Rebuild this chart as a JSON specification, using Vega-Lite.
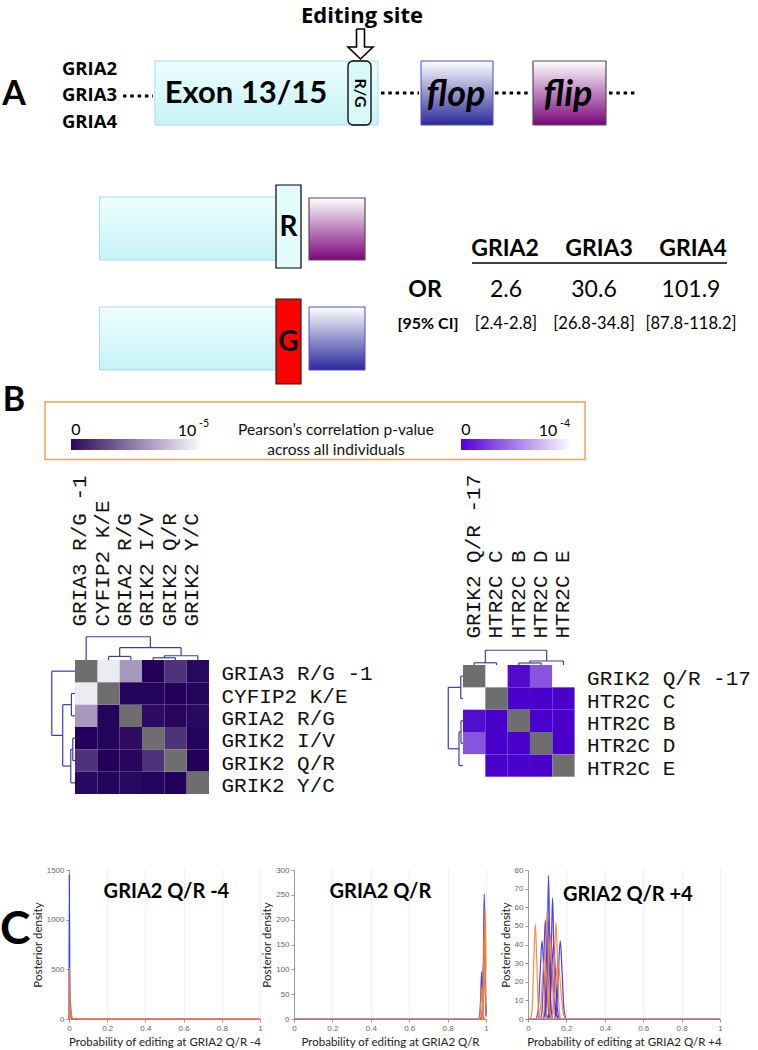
{
  "$schema": "https://vega.github.io/schema/vega-lite/v6.json",
  "padding": 0,
  "background": "white",
  "config": {"view": {"stroke": null}, "font": "Lato", "axis": {"labelOverlap": false}},
  "datasets": {
    "shapes": [
      {"kind": "exon", "x": 155, "x2": 378, "y": 61, "y2": 125},
      {"kind": "exon", "x": 99.5, "x2": 277, "y": 197, "y2": 260},
      {"kind": "exon", "x": 99.5, "x2": 277, "y": 307, "y2": 370},
      {"kind": "flop", "x": 421, "x2": 493, "y": 61, "y2": 125},
      {"kind": "flop", "x": 309, "x2": 365, "y": 307, "y2": 370},
      {"kind": "flip", "x": 533, "x2": 606, "y": 61, "y2": 125},
      {"kind": "flip", "x": 309, "x2": 365, "y": 198, "y2": 260},
      {"kind": "site", "x": 348, "x2": 371, "y": 61, "y2": 125},
      {"kind": "R", "x": 276, "x2": 301, "y": 185, "y2": 268},
      {"kind": "G", "x": 276, "x2": 301, "y": 299, "y2": 384},
      {"kind": "frame", "x": 45, "x2": 585, "y": 402, "y2": 459.5},
      {"kind": "scale5", "x": 71, "x2": 203, "y": 439, "y2": 450},
      {"kind": "scale4", "x": 461, "x2": 572, "y": 439, "y2": 450}
    ],
    "links": [
      {"kind": "dots", "x": 123, "x2": 153, "y": 96},
      {"kind": "dots", "x": 381, "x2": 419, "y": 93},
      {"kind": "dots", "x": 495, "x2": 531, "y": 93},
      {"kind": "dots", "x": 609, "x2": 635, "y": 93},
      {"kind": "underline", "x": 472, "x2": 727, "y": 263}
    ],
    "arrow": [
      {"i": 1, "x": 356.5, "y": 29}, {"i": 2, "x": 364.5, "y": 29}, {"i": 3, "x": 364.5, "y": 47},
      {"i": 4, "x": 373, "y": 47}, {"i": 5, "x": 360.5, "y": 59}, {"i": 6, "x": 348, "y": 47},
      {"i": 7, "x": 356.5, "y": 47}, {"i": 8, "x": 356.5, "y": 29}
    ],
    "texts": [
      {"role": "panel", "label": "A", "x": 14, "y": 95},
      {"role": "panel", "label": "B", "x": 14, "y": 401},
      {"role": "title", "label": "Editing site", "x": 362, "y": 16},
      {"role": "gene", "label": "GRIA2", "x": 89.5, "y": 69},
      {"role": "gene", "label": "GRIA3", "x": 89.5, "y": 95},
      {"role": "gene", "label": "GRIA4", "x": 89.5, "y": 122},
      {"role": "exon", "label": "Exon 13/15", "x": 246, "y": 94},
      {"role": "site", "label": "R/G", "x": 359.5, "y": 93},
      {"role": "isoform", "label": "flop", "x": 456, "y": 95},
      {"role": "isoform", "label": "flip", "x": 568, "y": 95},
      {"role": "allele", "label": "R", "x": 288.5, "y": 228},
      {"role": "allele", "label": "G", "x": 288.5, "y": 343},
      {"role": "header", "label": "GRIA2", "x": 505, "y": 249},
      {"role": "header", "label": "GRIA3", "x": 599, "y": 249},
      {"role": "header", "label": "GRIA4", "x": 693, "y": 249},
      {"role": "header", "label": "OR", "x": 425, "y": 290},
      {"role": "value", "label": "2.6", "x": 506, "y": 290},
      {"role": "value", "label": "30.6", "x": 594, "y": 290},
      {"role": "value", "label": "101.9", "x": 691, "y": 290},
      {"role": "cilabel", "label": "[95% CI]", "x": 428, "y": 324},
      {"role": "ci", "label": "[2.4-2.8]", "x": 506, "y": 324},
      {"role": "ci", "label": "[26.8-34.8]", "x": 594, "y": 324},
      {"role": "ci", "label": "[87.8-118.2]", "x": 691, "y": 324},
      {"role": "legend", "label": "Pearson’s correlation p-value", "x": 336, "y": 430},
      {"role": "legend", "label": "across all individuals", "x": 336, "y": 450},
      {"role": "legnum", "label": "0", "x": 76, "y": 430},
      {"role": "legnum", "label": "10", "x": 187, "y": 431},
      {"role": "legnum", "label": "0", "x": 466, "y": 430},
      {"role": "legnum", "label": "10", "x": 548, "y": 431},
      {"role": "sup", "label": "-5", "x": 204, "y": 424},
      {"role": "sup", "label": "-4", "x": 565, "y": 424}
    ],
    "heat1": [
      {"row": "GRIA3 R/G -1", "col": "GRIA3 R/G -1", "p": null},
      {"row": "GRIA3 R/G -1", "col": "CYFIP2 K/E", "p": 9.2e-6},
      {"row": "GRIA3 R/G -1", "col": "GRIA2 R/G", "p": 6.0e-6},
      {"row": "GRIA3 R/G -1", "col": "GRIK2 I/V", "p": 5e-8},
      {"row": "GRIA3 R/G -1", "col": "GRIK2 Q/R", "p": 2.0e-6},
      {"row": "GRIA3 R/G -1", "col": "GRIK2 Y/C", "p": 3e-7},
      {"row": "CYFIP2 K/E", "col": "GRIA3 R/G -1", "p": 9.2e-6},
      {"row": "CYFIP2 K/E", "col": "CYFIP2 K/E", "p": null},
      {"row": "CYFIP2 K/E", "col": "GRIA2 R/G", "p": 1e-7},
      {"row": "CYFIP2 K/E", "col": "GRIK2 I/V", "p": 1e-7},
      {"row": "CYFIP2 K/E", "col": "GRIK2 Q/R", "p": 3e-8},
      {"row": "CYFIP2 K/E", "col": "GRIK2 Y/C", "p": 1.5e-7},
      {"row": "GRIA2 R/G", "col": "GRIA3 R/G -1", "p": 6.0e-6},
      {"row": "GRIA2 R/G", "col": "CYFIP2 K/E", "p": 1e-7},
      {"row": "GRIA2 R/G", "col": "GRIA2 R/G", "p": null},
      {"row": "GRIA2 R/G", "col": "GRIK2 I/V", "p": 4.5e-7},
      {"row": "GRIA2 R/G", "col": "GRIK2 Q/R", "p": 2.5e-7},
      {"row": "GRIA2 R/G", "col": "GRIK2 Y/C", "p": 3e-7},
      {"row": "GRIK2 I/V", "col": "GRIA3 R/G -1", "p": 5e-8},
      {"row": "GRIK2 I/V", "col": "CYFIP2 K/E", "p": 1e-7},
      {"row": "GRIK2 I/V", "col": "GRIA2 R/G", "p": 4.5e-7},
      {"row": "GRIK2 I/V", "col": "GRIK2 I/V", "p": null},
      {"row": "GRIK2 I/V", "col": "GRIK2 Q/R", "p": 2.0e-6},
      {"row": "GRIK2 I/V", "col": "GRIK2 Y/C", "p": 1e-7},
      {"row": "GRIK2 Q/R", "col": "GRIA3 R/G -1", "p": 2.0e-6},
      {"row": "GRIK2 Q/R", "col": "CYFIP2 K/E", "p": 3e-8},
      {"row": "GRIK2 Q/R", "col": "GRIA2 R/G", "p": 2.5e-7},
      {"row": "GRIK2 Q/R", "col": "GRIK2 I/V", "p": 2.0e-6},
      {"row": "GRIK2 Q/R", "col": "GRIK2 Q/R", "p": null},
      {"row": "GRIK2 Q/R", "col": "GRIK2 Y/C", "p": 3e-8},
      {"row": "GRIK2 Y/C", "col": "GRIA3 R/G -1", "p": 3e-7},
      {"row": "GRIK2 Y/C", "col": "CYFIP2 K/E", "p": 1.5e-7},
      {"row": "GRIK2 Y/C", "col": "GRIA2 R/G", "p": 3e-7},
      {"row": "GRIK2 Y/C", "col": "GRIK2 I/V", "p": 1e-7},
      {"row": "GRIK2 Y/C", "col": "GRIK2 Q/R", "p": 3e-8},
      {"row": "GRIK2 Y/C", "col": "GRIK2 Y/C", "p": null}
    ],
    "heat2": [
      {"row": "GRIK2 Q/R -17", "col": "GRIK2 Q/R -17", "p": null},
      {"row": "GRIK2 Q/R -17", "col": "HTR2C C", "p": 3e-4},
      {"row": "GRIK2 Q/R -17", "col": "HTR2C B", "p": 4e-6},
      {"row": "GRIK2 Q/R -17", "col": "HTR2C D", "p": 3.3e-5},
      {"row": "GRIK2 Q/R -17", "col": "HTR2C E", "p": 5e-4},
      {"row": "HTR2C C", "col": "GRIK2 Q/R -17", "p": 3e-4},
      {"row": "HTR2C C", "col": "HTR2C C", "p": null},
      {"row": "HTR2C C", "col": "HTR2C B", "p": 2e-7},
      {"row": "HTR2C C", "col": "HTR2C D", "p": 1e-7},
      {"row": "HTR2C C", "col": "HTR2C E", "p": 3e-7},
      {"row": "HTR2C B", "col": "GRIK2 Q/R -17", "p": 5e-6},
      {"row": "HTR2C B", "col": "HTR2C C", "p": 2e-7},
      {"row": "HTR2C B", "col": "HTR2C B", "p": null},
      {"row": "HTR2C B", "col": "HTR2C D", "p": 1e-7},
      {"row": "HTR2C B", "col": "HTR2C E", "p": 2e-7},
      {"row": "HTR2C D", "col": "GRIK2 Q/R -17", "p": 3.3e-5},
      {"row": "HTR2C D", "col": "HTR2C C", "p": 1e-7},
      {"row": "HTR2C D", "col": "HTR2C B", "p": 1e-7},
      {"row": "HTR2C D", "col": "HTR2C D", "p": null},
      {"row": "HTR2C D", "col": "HTR2C E", "p": 1e-7},
      {"row": "HTR2C E", "col": "GRIK2 Q/R -17", "p": 5e-4},
      {"row": "HTR2C E", "col": "HTR2C C", "p": 3e-7},
      {"row": "HTR2C E", "col": "HTR2C B", "p": 2e-7},
      {"row": "HTR2C E", "col": "HTR2C D", "p": 1e-7},
      {"row": "HTR2C E", "col": "HTR2C E", "p": null}
    ],
    "tree1": [
      {"a0": 3.5, "h0": -0.1, "a1": 4.5, "h1": -0.1},
      {"a0": 3.5, "h0": -0.1, "a1": 3.5, "h1": 0},
      {"a0": 4.5, "h0": -0.1, "a1": 4.5, "h1": 0},
      {"a0": 4.0, "h0": -0.19, "a1": 5.5, "h1": -0.19},
      {"a0": 4.0, "h0": -0.19, "a1": 4.0, "h1": -0.1},
      {"a0": 5.5, "h0": -0.19, "a1": 5.5, "h1": 0},
      {"a0": 1.5, "h0": -0.16, "a1": 2.5, "h1": -0.16},
      {"a0": 1.5, "h0": -0.16, "a1": 1.5, "h1": 0},
      {"a0": 2.5, "h0": -0.16, "a1": 2.5, "h1": 0},
      {"a0": 2.0, "h0": -0.55, "a1": 4.75, "h1": -0.55},
      {"a0": 2.0, "h0": -0.55, "a1": 2.0, "h1": -0.16},
      {"a0": 4.75, "h0": -0.55, "a1": 4.75, "h1": -0.19},
      {"a0": 0.5, "h0": -1.04, "a1": 3.375, "h1": -1.04},
      {"a0": 0.5, "h0": -1.04, "a1": 0.5, "h1": 0},
      {"a0": 3.375, "h0": -1.04, "a1": 3.375, "h1": -0.55}
    ],
    "tree2": [
      {"a0": 0.5, "h0": -0.1, "a1": 1.5, "h1": -0.1},
      {"a0": 0.5, "h0": -0.1, "a1": 0.5, "h1": 0},
      {"a0": 1.5, "h0": -0.1, "a1": 1.5, "h1": 0},
      {"a0": 2.5, "h0": -0.09, "a1": 3.5, "h1": -0.09},
      {"a0": 2.5, "h0": -0.09, "a1": 2.5, "h1": 0},
      {"a0": 3.5, "h0": -0.09, "a1": 3.5, "h1": 0},
      {"a0": 3.0, "h0": -0.18, "a1": 4.5, "h1": -0.18},
      {"a0": 3.0, "h0": -0.18, "a1": 3.0, "h1": -0.09},
      {"a0": 4.5, "h0": -0.18, "a1": 4.5, "h1": 0},
      {"a0": 1.0, "h0": -0.66, "a1": 3.75, "h1": -0.66},
      {"a0": 1.0, "h0": -0.66, "a1": 1.0, "h1": -0.1},
      {"a0": 3.75, "h0": -0.66, "a1": 3.75, "h1": -0.18}
    ],
    "dens1": [
      {"curve": "B1", "group": "Cohort 1", "x": [0, 0.0015, 0.004, 0.008, 0.012, 0.02, 1], "y": [0, 1450, 420, 60, 5, 0, 0]},
      {"curve": "B2", "group": "Cohort 1", "x": [0, 0.004, 0.007, 0.01, 0.014, 0.02, 0.04], "y": [0, 40, 165, 90, 20, 0, 0]},
      {"curve": "O1", "group": "Cohort 2", "x": [0, 0.002, 0.003, 0.005, 0.009, 0.015, 1], "y": [0, 300, 520, 250, 40, 0, 0]},
      {"curve": "O2", "group": "Cohort 2", "x": [0, 0.005, 0.008, 0.012, 0.02, 0.03, 1], "y": [0, 60, 110, 40, 3, 0, 0]}
    ],
    "dens2": [
      {"curve": "B1", "group": "Cohort 1", "x": [0, 0.955, 0.965, 0.972, 0.977, 0.981, 0.986, 0.99], "y": [0, 0, 3, 40, 95, 40, 3, 0]},
      {"curve": "B2", "group": "Cohort 1", "x": [0.975, 0.981, 0.985, 0.988, 0.991, 0.994, 0.997, 1], "y": [0, 10, 70, 180, 252, 180, 60, 5]},
      {"curve": "B3", "group": "Cohort 1", "x": [0.968, 0.976, 0.982, 0.987, 0.992, 0.996, 1], "y": [0, 5, 30, 110, 130, 60, 10]},
      {"curve": "O0", "group": "Cohort 2", "x": [0, 1], "y": [0, 0]},
      {"curve": "O1", "group": "Cohort 2", "x": [0.96, 0.968, 0.974, 0.979, 0.984, 0.989, 0.995], "y": [0, 5, 40, 65, 25, 2, 0]},
      {"curve": "O2", "group": "Cohort 2", "x": [0.978, 0.984, 0.988, 0.992, 0.995, 0.998, 1], "y": [0, 20, 90, 190, 225, 170, 100]},
      {"curve": "O3", "group": "Cohort 2", "x": [0.974, 0.98, 0.985, 0.989, 0.993, 0.997, 1], "y": [0, 10, 40, 150, 175, 100, 40]},
      {"curve": "O4", "group": "Cohort 2", "x": [0.976, 0.982, 0.986, 0.99, 0.994, 0.998, 1], "y": [0, 15, 70, 120, 90, 30, 10]}
    ],
    "dens3": [
      {"curve": "B0", "group": "Cohort 1", "x": [0, 1], "y": [0, 0]},
      {"curve": "B1", "group": "Cohort 1", "x": [0.0915, 0.0966, 0.1018, 0.107, 0.1122, 0.1174, 0.1225], "y": [0.9, 10.4, 46.7, 77, 46.7, 10.4, 0.9]},
      {"curve": "B2", "group": "Cohort 1", "x": [0.1096, 0.1157, 0.1219, 0.128, 0.1341, 0.1403, 0.1464], "y": [0.7, 8.8, 39.5, 65, 39.5, 8.8, 0.7]},
      {"curve": "B3", "group": "Cohort 1", "x": [0.0674, 0.0749, 0.0825, 0.09, 0.0975, 0.1051, 0.1126], "y": [0.6, 7.2, 32.2, 53, 32.2, 7.2, 0.6]},
      {"curve": "B4", "group": "Cohort 1", "x": [0.0818, 0.0892, 0.0966, 0.104, 0.1114, 0.1188, 0.1262], "y": [0.6, 7.3, 32.8, 54, 32.8, 7.3, 0.6]},
      {"curve": "B5", "group": "Cohort 1", "x": [0.1395, 0.149, 0.1585, 0.168, 0.1775, 0.187, 0.1965], "y": [0.5, 5.7, 25.5, 42, 25.5, 5.7, 0.5]},
      {"curve": "B6", "group": "Cohort 1", "x": [0.0445, 0.054, 0.0635, 0.073, 0.0825, 0.092, 0.1015], "y": [0.5, 5.7, 25.5, 42, 25.5, 5.7, 0.5]},
      {"curve": "B7", "group": "Cohort 1", "x": [0.1031, 0.1131, 0.123, 0.133, 0.143, 0.1529, 0.1629], "y": [0.4, 5.4, 24.3, 40, 24.3, 5.4, 0.4]},
      {"curve": "B8", "group": "Cohort 1", "x": [0.0781, 0.0914, 0.1047, 0.118, 0.1313, 0.1446, 0.1579], "y": [0.3, 4.1, 18.2, 30, 18.2, 4.1, 0.3]},
      {"curve": "O0", "group": "Cohort 2", "x": [0, 1], "y": [0, 0]},
      {"curve": "O1", "group": "Cohort 2", "x": [0.0145, 0.0224, 0.0302, 0.038, 0.0458, 0.0536, 0.0615], "y": [0.6, 6.9, 31, 51, 31, 6.9, 0.6]},
      {"curve": "O2", "group": "Cohort 2", "x": [0.0784, 0.0852, 0.0921, 0.099, 0.1059, 0.1128, 0.1196], "y": [0.6, 7.8, 35.2, 58, 35.2, 7.8, 0.6]},
      {"curve": "O3", "group": "Cohort 2", "x": [0.123, 0.1307, 0.1383, 0.146, 0.1537, 0.1613, 0.169], "y": [0.6, 7, 31.6, 52, 31.6, 7, 0.6]},
      {"curve": "O4", "group": "Cohort 2", "x": [0.1174, 0.1303, 0.1431, 0.156, 0.1689, 0.1817, 0.1946], "y": [0.3, 4.2, 18.8, 31, 18.8, 4.2, 0.3]},
      {"curve": "O5", "group": "Cohort 2", "x": [0.0518, 0.0635, 0.0753, 0.087, 0.0987, 0.1105, 0.1222], "y": [0.4, 4.6, 20.6, 34, 20.6, 4.6, 0.4]},
      {"curve": "O6", "group": "Cohort 2", "x": [0.0894, 0.0983, 0.1071, 0.116, 0.1249, 0.1337, 0.1426], "y": [0.5, 6.1, 27.3, 45, 27.3, 6.1, 0.5]}
    ]
  },
  "spacing": 70,
  "vconcat": [
    {
      "spacing": 13,
      "vconcat": [
        {
          "width": 758,
          "height": 460,
          "encoding": {
            "x": {"field": "x", "type": "quantitative", "scale": {"domain": [0, 758], "nice": false, "zero": false}, "axis": null},
            "y": {"field": "y", "type": "quantitative", "scale": {"domain": [0, 460], "nice": false, "zero": false, "reverse": true}, "axis": null}
          },
          "layer": [
            {
              "data": {"name": "shapes"},
              "transform": [{"filter": "datum.kind === 'exon' || datum.kind === 'flop' || datum.kind === 'flip'"}],
              "mark": {"type": "rect", "fill": "#000000", "opacity": 0.16, "xOffset": 3, "yOffset": 3},
              "encoding": {"x2": {"field": "x2"}, "y2": {"field": "y2"}}
            },
            {
              "data": {"name": "shapes"},
              "transform": [{"filter": "datum.kind === 'exon'"}],
              "mark": {"type": "rect", "stroke": "#a6e0e6", "strokeWidth": 1,
                "fill": {"gradient": "linear", "x1": 0, "y1": 0, "x2": 0, "y2": 1, "stops": [{"offset": 0, "color": "#edfeff"}, {"offset": 1, "color": "#c6f2f5"}]}},
              "encoding": {"x2": {"field": "x2"}, "y2": {"field": "y2"}}
            },
            {
              "data": {"name": "shapes"},
              "transform": [{"filter": "datum.kind === 'flop'"}],
              "mark": {"type": "rect", "stroke": "#4d4dc0", "strokeWidth": 1,
                "fill": {"gradient": "linear", "x1": 0, "y1": 0, "x2": 0, "y2": 1, "stops": [{"offset": 0, "color": "#ffffff"}, {"offset": 1, "color": "#2a2a9a"}]}},
              "encoding": {"x2": {"field": "x2"}, "y2": {"field": "y2"}}
            },
            {
              "data": {"name": "shapes"},
              "transform": [{"filter": "datum.kind === 'flip'"}],
              "mark": {"type": "rect", "stroke": "#505050", "strokeWidth": 1.2,
                "fill": {"gradient": "linear", "x1": 0, "y1": 0, "x2": 0, "y2": 1, "stops": [{"offset": 0, "color": "#ffffff"}, {"offset": 1, "color": "#7a067a"}]}},
              "encoding": {"x2": {"field": "x2"}, "y2": {"field": "y2"}}
            },
            {
              "data": {"name": "shapes"},
              "transform": [{"filter": "datum.kind === 'site'"}],
              "mark": {"type": "rect", "fill": "#d9f8fa", "stroke": "#000000", "strokeWidth": 1.3, "cornerRadius": 5},
              "encoding": {"x2": {"field": "x2"}, "y2": {"field": "y2"}}
            },
            {
              "data": {"name": "shapes"},
              "transform": [{"filter": "datum.kind === 'R'"}],
              "mark": {"type": "rect", "fill": "#e4fbfc", "stroke": "#000000", "strokeWidth": 1.2},
              "encoding": {"x2": {"field": "x2"}, "y2": {"field": "y2"}}
            },
            {
              "data": {"name": "shapes"},
              "transform": [{"filter": "datum.kind === 'G'"}],
              "mark": {"type": "rect", "fill": "#ff0000", "stroke": "#222222", "strokeWidth": 1.2},
              "encoding": {"x2": {"field": "x2"}, "y2": {"field": "y2"}}
            },
            {
              "data": {"name": "shapes"},
              "transform": [{"filter": "datum.kind === 'frame'"}],
              "mark": {"type": "rect", "filled": false, "color": "#f5a05c", "strokeWidth": 1.5},
              "encoding": {"x2": {"field": "x2"}, "y2": {"field": "y2"}}
            },
            {
              "data": {"name": "shapes"},
              "transform": [{"filter": "datum.kind === 'scale5'"}],
              "mark": {"type": "rect",
                "fill": {"gradient": "linear", "x1": 0, "y1": 0, "x2": 1, "y2": 0, "stops": [{"offset": 0, "color": "#2a085c"}, {"offset": 1, "color": "#ffffff"}]}},
              "encoding": {"x2": {"field": "x2"}, "y2": {"field": "y2"}}
            },
            {
              "data": {"name": "shapes"},
              "transform": [{"filter": "datum.kind === 'scale4'"}],
              "mark": {"type": "rect",
                "fill": {"gradient": "linear", "x1": 0, "y1": 0, "x2": 1, "y2": 0, "stops": [{"offset": 0, "color": "#5000d4"}, {"offset": 1, "color": "#ffffff"}]}},
              "encoding": {"x2": {"field": "x2"}, "y2": {"field": "y2"}}
            },
            {
              "data": {"name": "links"},
              "transform": [{"filter": "datum.kind === 'dots'"}],
              "mark": {"type": "rule", "color": "#000000", "strokeWidth": 3, "strokeDash": [3.5, 3.8]},
              "encoding": {"x2": {"field": "x2"}}
            },
            {
              "data": {"name": "links"},
              "transform": [{"filter": "datum.kind === 'underline'"}],
              "mark": {"type": "rule", "color": "#000000", "strokeWidth": 1.6},
              "encoding": {"x2": {"field": "x2"}}
            },
            {
              "data": {"name": "arrow"},
              "mark": {"type": "line", "color": "#000000", "strokeWidth": 1.6, "strokeJoin": "miter"},
              "encoding": {"order": {"field": "i", "type": "quantitative"}}
            },
            {
              "data": {"name": "texts"},
              "transform": [{"filter": "datum.role === 'panel'"}],
              "mark": {"type": "text", "font": "Lato", "fontWeight": "bold", "fontSize": 34, "align": "center", "baseline": "middle", "color": "#000"},
              "encoding": {"text": {"field": "label"}}
            },
            {
              "data": {"name": "texts"},
              "transform": [{"filter": "datum.role === 'title'"}],
              "mark": {"type": "text", "font": "Open Sans", "fontWeight": "bold", "fontSize": 22, "align": "center", "baseline": "middle", "color": "#000"},
              "encoding": {"text": {"field": "label"}}
            },
            {
              "data": {"name": "texts"},
              "transform": [{"filter": "datum.role === 'gene'"}],
              "mark": {"type": "text", "font": "Open Sans", "fontWeight": "bold", "fontSize": 18.5, "align": "center", "baseline": "middle", "color": "#000"},
              "encoding": {"text": {"field": "label"}}
            },
            {
              "data": {"name": "texts"},
              "transform": [{"filter": "datum.role === 'exon'"}],
              "mark": {"type": "text", "font": "Lato", "fontWeight": "bold", "fontSize": 31, "align": "center", "baseline": "middle", "color": "#000"},
              "encoding": {"text": {"field": "label"}}
            },
            {
              "data": {"name": "texts"},
              "transform": [{"filter": "datum.role === 'site'"}],
              "mark": {"type": "text", "font": "Lato", "fontWeight": "bold", "fontSize": 16, "align": "center", "baseline": "middle", "angle": 90, "color": "#000"},
              "encoding": {"text": {"field": "label"}}
            },
            {
              "data": {"name": "texts"},
              "transform": [{"filter": "datum.role === 'isoform'"}],
              "mark": {"type": "text", "font": "Lato", "fontWeight": "bold", "fontStyle": "italic", "fontSize": 36, "align": "center", "baseline": "middle", "color": "#000"},
              "encoding": {"text": {"field": "label"}}
            },
            {
              "data": {"name": "texts"},
              "transform": [{"filter": "datum.role === 'allele'"}],
              "mark": {"type": "text", "font": "Lato", "fontWeight": "bold", "fontSize": 28, "align": "center", "baseline": "middle", "color": "#000"},
              "encoding": {"text": {"field": "label"}}
            },
            {
              "data": {"name": "texts"},
              "transform": [{"filter": "datum.role === 'header'"}],
              "mark": {"type": "text", "font": "Lato", "fontWeight": "bold", "fontSize": 23, "align": "center", "baseline": "middle", "color": "#000"},
              "encoding": {"text": {"field": "label"}}
            },
            {
              "data": {"name": "texts"},
              "transform": [{"filter": "datum.role === 'value'"}],
              "mark": {"type": "text", "font": "Lato", "fontSize": 23, "align": "center", "baseline": "middle", "color": "#000"},
              "encoding": {"text": {"field": "label"}}
            },
            {
              "data": {"name": "texts"},
              "transform": [{"filter": "datum.role === 'cilabel'"}],
              "mark": {"type": "text", "font": "Lato", "fontWeight": "bold", "fontSize": 16, "align": "center", "baseline": "middle", "color": "#000"},
              "encoding": {"text": {"field": "label"}}
            },
            {
              "data": {"name": "texts"},
              "transform": [{"filter": "datum.role === 'ci'"}],
              "mark": {"type": "text", "font": "Lato", "fontSize": 16.5, "align": "center", "baseline": "middle", "color": "#000"},
              "encoding": {"text": {"field": "label"}}
            },
            {
              "data": {"name": "texts"},
              "transform": [{"filter": "datum.role === 'legend'"}],
              "mark": {"type": "text", "font": "Lato", "fontSize": 15.5, "align": "center", "baseline": "middle", "color": "#111"},
              "encoding": {"text": {"field": "label"}}
            },
            {
              "data": {"name": "texts"},
              "transform": [{"filter": "datum.role === 'legnum'"}],
              "mark": {"type": "text", "font": "Lato", "fontSize": 16, "align": "center", "baseline": "middle", "color": "#000"},
              "encoding": {"text": {"field": "label"}}
            },
            {
              "data": {"name": "texts"},
              "transform": [{"filter": "datum.role === 'sup'"}],
              "mark": {"type": "text", "font": "Lato", "fontSize": 10.5, "align": "center", "baseline": "middle", "color": "#000"},
              "encoding": {"text": {"field": "label"}}
            }
          ]
        },
        {
          "spacing": 0,
          "bounds": "flush",
          "hconcat": [
            {"width": 74.3, "height": 10, "data": {"values": []}, "mark": "point"},
            {
              "width": 134,
              "height": 134,
              "layer": [
                {
                  "data": {"name": "heat1"},
                  "transform": [{"filter": "isValid(datum.p)"}],
                  "mark": {"type": "rect"},
                  "encoding": {
                    "x": {"field": "col", "type": "nominal",
                      "scale": {"domain": ["GRIA3 R/G -1", "CYFIP2 K/E", "GRIA2 R/G", "GRIK2 I/V", "GRIK2 Q/R", "GRIK2 Y/C"], "paddingInner": 0, "paddingOuter": 0},
                      "axis": {"orient": "top", "title": null, "domain": false, "ticks": false, "tickSize": 0, "grid": false, "labelAngle": 270, "labelAlign": "left", "labelBaseline": "alphabetic", "labelPadding": 34, "labelFont": "Liberation Mono", "labelFontSize": 21, "labelColor": "#111", "labelOverlap": false, "labelLimit": 400}},
                    "y": {"field": "row", "type": "nominal",
                      "scale": {"domain": ["GRIA3 R/G -1", "CYFIP2 K/E", "GRIA2 R/G", "GRIK2 I/V", "GRIK2 Q/R", "GRIK2 Y/C"], "paddingInner": 0, "paddingOuter": 0},
                      "axis": {"orient": "right", "title": null, "domain": false, "ticks": false, "tickSize": 0, "grid": false, "labelAlign": "left", "labelBaseline": "middle", "labelOffset": 3, "labelPadding": 12, "labelFont": "Liberation Mono", "labelFontSize": 21, "labelColor": "#111", "labelOverlap": false, "labelLimit": 400}},
                    "color": {"field": "p", "type": "quantitative", "scale": {"domain": [0, 0.00001], "range": ["#22005a", "#ffffff"], "interpolate": "rgb", "clamp": true}, "legend": null}
                  }
                },
                {
                  "data": {"name": "heat1"},
                  "transform": [{"filter": "!isValid(datum.p)"}],
                  "mark": {"type": "rect", "color": "#6e6e6e"},
                  "encoding": {
                    "x": {"field": "col", "type": "nominal", "scale": {"domain": ["GRIA3 R/G -1", "CYFIP2 K/E", "GRIA2 R/G", "GRIK2 I/V", "GRIK2 Q/R", "GRIK2 Y/C"], "paddingInner": 0, "paddingOuter": 0}, "axis": null},
                    "y": {"field": "row", "type": "nominal", "scale": {"domain": ["GRIA3 R/G -1", "CYFIP2 K/E", "GRIA2 R/G", "GRIK2 I/V", "GRIK2 Q/R", "GRIK2 Y/C"], "paddingInner": 0, "paddingOuter": 0}, "axis": null}
                  }
                },
                {
                  "data": {"name": "tree1"},
                  "mark": {"type": "rule", "color": "#3d3dab", "strokeWidth": 1.2},
                  "encoding": {
                    "x": {"field": "a0", "type": "quantitative", "scale": {"domain": [0, 6], "nice": false, "zero": false}, "axis": null},
                    "x2": {"field": "a1"},
                    "y": {"field": "h0", "type": "quantitative", "scale": {"domain": [0, 6], "nice": false, "zero": false, "reverse": true}, "axis": null},
                    "y2": {"field": "h1"}
                  }
                },
                {
                  "data": {"name": "tree1"},
                  "mark": {"type": "rule", "color": "#3d3dab", "strokeWidth": 1.2},
                  "encoding": {
                    "x": {"field": "h0", "type": "quantitative", "scale": {"domain": [0, 6], "nice": false, "zero": false}, "axis": null},
                    "x2": {"field": "h1"},
                    "y": {"field": "a0", "type": "quantitative", "scale": {"domain": [0, 6], "nice": false, "zero": false, "reverse": true}, "axis": null},
                    "y2": {"field": "a1"}
                  }
                }
              ],
              "resolve": {"scale": {"x": "independent", "y": "independent", "color": "independent"}}
            },
            {"width": 253.4, "height": 10, "data": {"values": []}, "mark": "point"},
            {
              "width": 111.6,
              "height": 116.7,
              "layer": [
                {
                  "data": {"name": "heat2"},
                  "transform": [{"filter": "isValid(datum.p)"}],
                  "mark": {"type": "rect"},
                  "encoding": {
                    "x": {"field": "col", "type": "nominal",
                      "scale": {"domain": ["GRIK2 Q/R -17", "HTR2C C", "HTR2C B", "HTR2C D", "HTR2C E"], "paddingInner": 0, "paddingOuter": 0},
                      "axis": {"orient": "top", "title": null, "domain": false, "ticks": false, "tickSize": 0, "grid": false, "labelAngle": 270, "labelAlign": "left", "labelBaseline": "middle", "labelPadding": 22, "labelFont": "Liberation Mono", "labelFontSize": 21, "labelColor": "#111", "labelOverlap": false, "labelLimit": 400}},
                    "y": {"field": "row", "type": "nominal",
                      "scale": {"domain": ["GRIK2 Q/R -17", "HTR2C C", "HTR2C B", "HTR2C D", "HTR2C E"], "paddingInner": 0, "paddingOuter": 0.112, "align": 1},
                      "axis": {"orient": "right", "title": null, "domain": false, "ticks": false, "tickSize": 0, "grid": false, "labelAlign": "left", "labelBaseline": "middle", "labelOffset": 3, "labelPadding": 12, "labelFont": "Liberation Mono", "labelFontSize": 21, "labelColor": "#111", "labelOverlap": false, "labelLimit": 400}},
                    "color": {"field": "p", "type": "quantitative", "scale": {"domain": [0, 0.0001], "range": ["#4a00cc", "#ffffff"], "interpolate": "rgb", "clamp": true}, "legend": null}
                  }
                },
                {
                  "data": {"name": "heat2"},
                  "transform": [{"filter": "!isValid(datum.p)"}],
                  "mark": {"type": "rect", "color": "#6e6e6e"},
                  "encoding": {
                    "x": {"field": "col", "type": "nominal", "scale": {"domain": ["GRIK2 Q/R -17", "HTR2C C", "HTR2C B", "HTR2C D", "HTR2C E"], "paddingInner": 0, "paddingOuter": 0}, "axis": null},
                    "y": {"field": "row", "type": "nominal", "scale": {"domain": ["GRIK2 Q/R -17", "HTR2C C", "HTR2C B", "HTR2C D", "HTR2C E"], "paddingInner": 0, "paddingOuter": 0.112, "align": 1}, "axis": null}
                  }
                },
                {
                  "data": {"name": "tree2"},
                  "mark": {"type": "rule", "color": "#3d3dab", "strokeWidth": 1.2},
                  "encoding": {
                    "x": {"field": "a0", "type": "quantitative", "scale": {"domain": [0, 5], "nice": false, "zero": false}, "axis": null},
                    "x2": {"field": "a1"},
                    "y": {"field": "h0", "type": "quantitative", "scale": {"domain": [-0.224, 5], "nice": false, "zero": false, "reverse": true}, "axis": null},
                    "y2": {"field": "h1"}
                  }
                },
                {
                  "data": {"name": "tree2"},
                  "mark": {"type": "rule", "color": "#3d3dab", "strokeWidth": 1.2},
                  "encoding": {
                    "x": {"field": "h0", "type": "quantitative", "scale": {"domain": [0, 5], "nice": false, "zero": false}, "axis": null},
                    "x2": {"field": "h1"},
                    "y": {"field": "a0", "type": "quantitative", "scale": {"domain": [-0.224, 5], "nice": false, "zero": false, "reverse": true}, "axis": null},
                    "y2": {"field": "a1"}
                  }
                }
              ],
              "resolve": {"scale": {"x": "independent", "y": "independent", "color": "independent"}}
            }
          ]
        }
      ]
    },
    {
      "spacing": 0,
      "bounds": "flush",
      "hconcat": [
        {
          "width": 69,
          "height": 149,
          "data": {"values": [{"label": "C"}]},
          "mark": {"type": "text", "font": "Lato", "fontWeight": "bold", "fontSize": 46, "align": "left", "baseline": "middle", "color": "#000"},
          "encoding": {
            "text": {"field": "label"},
            "x": {"datum": 0, "type": "quantitative", "scale": {"domain": [0, 1]}, "axis": null},
            "y": {"datum": 0.6, "type": "quantitative", "scale": {"domain": [0, 1]}, "axis": null}
          }
        },
        {
          "width": 191,
          "height": 149,
          "layer": [
            {
              "data": {"name": "dens1"},
              "transform": [{"flatten": ["x", "y"]}],
              "mark": {"type": "line", "strokeWidth": 1.2, "interpolate": "monotone", "opacity": 0.9},
              "encoding": {
                "x": {"field": "x", "type": "quantitative", "scale": {"domain": [0, 1], "nice": false, "zero": false},
                  "axis": {"title": "Probability of editing at GRIA2 Q/R -4", "values": [0, 0.2, 0.4, 0.6, 0.8, 1], "format": "~g", "labelOverlap": false, "labelFlush": false, "labelFont": "Liberation Sans", "labelFontSize": 8, "labelColor": "#666", "labelPadding": 2, "tickSize": 3, "tickColor": "#999", "domainColor": "#999", "grid": true, "gridColor": "#e4e4e4", "gridDash": [2, 2], "titleFont": "Lato", "titleFontSize": 11.5, "titleFontWeight": "normal", "titleColor": "#222", "titlePadding": 4}},
                "y": {"field": "y", "type": "quantitative", "scale": {"domain": [0, 1500], "nice": false},
                  "axis": {"title": "Posterior density", "values": [0, 500, 1000, 1500], "format": "d", "labelOverlap": false, "labelFlush": false, "labelFont": "Liberation Sans", "labelFontSize": 8, "labelColor": "#666", "labelPadding": 2, "tickSize": 3, "tickColor": "#999", "domainColor": "#999", "grid": false, "titleFont": "Lato", "titleFontSize": 11.5, "titleFontWeight": "normal", "titleColor": "#222", "titlePadding": 3}},
                "color": {"field": "group", "type": "nominal", "scale": {"domain": ["Cohort 1", "Cohort 2"], "range": ["#2b2bff", "#ff7f2a"]}, "legend": null},
                "detail": {"field": "curve", "type": "nominal"}
              }
            },
            {
              "data": {"values": [{"label": "GRIA2 Q/R -4"}]},
              "mark": {"type": "text", "font": "Lato", "fontWeight": "bold", "fontSize": 20, "align": "center", "baseline": "middle", "color": "#000"},
              "encoding": {"text": {"field": "label"},
                "x": {"datum": 0.51, "type": "quantitative",
                  "axis": {"title": "Probability of editing at GRIA2 Q/R -4", "values": [0, 0.2, 0.4, 0.6, 0.8, 1], "format": "~g", "labelOverlap": false, "labelFlush": false, "labelFont": "Liberation Sans", "labelFontSize": 8, "labelColor": "#666", "labelPadding": 2, "tickSize": 3, "tickColor": "#999", "domainColor": "#999", "grid": true, "gridColor": "#e4e4e4", "gridDash": [2, 2], "titleFont": "Lato", "titleFontSize": 11.5, "titleFontWeight": "normal", "titleColor": "#222", "titlePadding": 4}},
                "y": {"datum": 1280, "type": "quantitative",
                  "axis": {"title": "Posterior density", "values": [0, 500, 1000, 1500], "format": "d", "labelOverlap": false, "labelFlush": false, "labelFont": "Liberation Sans", "labelFontSize": 8, "labelColor": "#666", "labelPadding": 2, "tickSize": 3, "tickColor": "#999", "domainColor": "#999", "grid": false, "titleFont": "Lato", "titleFontSize": 11.5, "titleFontWeight": "normal", "titleColor": "#222", "titlePadding": 3}}}
            }
          ]
        },
        {"width": 34, "height": 149, "data": {"values": []}, "mark": "point"},
        {
          "width": 192,
          "height": 149,
          "layer": [
            {
              "data": {"name": "dens2"},
              "transform": [{"flatten": ["x", "y"]}],
              "mark": {"type": "line", "strokeWidth": 1.2, "interpolate": "monotone", "opacity": 0.9},
              "encoding": {
                "x": {"field": "x", "type": "quantitative", "scale": {"domain": [0, 1], "nice": false, "zero": false},
                  "axis": {"title": "Probability of editing at GRIA2 Q/R", "values": [0, 0.2, 0.4, 0.6, 0.8, 1], "format": "~g", "labelOverlap": false, "labelFlush": false, "labelFont": "Liberation Sans", "labelFontSize": 8, "labelColor": "#666", "labelPadding": 2, "tickSize": 3, "tickColor": "#999", "domainColor": "#999", "grid": true, "gridColor": "#e4e4e4", "gridDash": [2, 2], "titleFont": "Lato", "titleFontSize": 11.5, "titleFontWeight": "normal", "titleColor": "#222", "titlePadding": 4}},
                "y": {"field": "y", "type": "quantitative", "scale": {"domain": [0, 300], "nice": false},
                  "axis": {"title": "Posterior density", "values": [0, 50, 100, 150, 200, 250, 300], "format": "d", "labelOverlap": false, "labelFlush": false, "labelFont": "Liberation Sans", "labelFontSize": 8, "labelColor": "#666", "labelPadding": 2, "tickSize": 3, "tickColor": "#999", "domainColor": "#999", "grid": false, "titleFont": "Lato", "titleFontSize": 11.5, "titleFontWeight": "normal", "titleColor": "#222", "titlePadding": 3}},
                "color": {"field": "group", "type": "nominal", "scale": {"domain": ["Cohort 1", "Cohort 2"], "range": ["#2b2bff", "#ff7f2a"]}, "legend": null},
                "detail": {"field": "curve", "type": "nominal"}
              }
            },
            {
              "data": {"values": [{"label": "GRIA2 Q/R"}]},
              "mark": {"type": "text", "font": "Lato", "fontWeight": "bold", "fontSize": 20, "align": "center", "baseline": "middle", "color": "#000"},
              "encoding": {"text": {"field": "label"},
                "x": {"datum": 0.45, "type": "quantitative",
                  "axis": {"title": "Probability of editing at GRIA2 Q/R", "values": [0, 0.2, 0.4, 0.6, 0.8, 1], "format": "~g", "labelOverlap": false, "labelFlush": false, "labelFont": "Liberation Sans", "labelFontSize": 8, "labelColor": "#666", "labelPadding": 2, "tickSize": 3, "tickColor": "#999", "domainColor": "#999", "grid": true, "gridColor": "#e4e4e4", "gridDash": [2, 2], "titleFont": "Lato", "titleFontSize": 11.5, "titleFontWeight": "normal", "titleColor": "#222", "titlePadding": 4}},
                "y": {"datum": 256, "type": "quantitative",
                  "axis": {"title": "Posterior density", "values": [0, 50, 100, 150, 200, 250, 300], "format": "d", "labelOverlap": false, "labelFlush": false, "labelFont": "Liberation Sans", "labelFontSize": 8, "labelColor": "#666", "labelPadding": 2, "tickSize": 3, "tickColor": "#999", "domainColor": "#999", "grid": false, "titleFont": "Lato", "titleFontSize": 11.5, "titleFontWeight": "normal", "titleColor": "#222", "titlePadding": 3}}}
            }
          ]
        },
        {"width": 42, "height": 149, "data": {"values": []}, "mark": "point"},
        {
          "width": 192,
          "height": 149,
          "layer": [
            {
              "data": {"name": "dens3"},
              "transform": [{"flatten": ["x", "y"]}],
              "mark": {"type": "line", "strokeWidth": 1.2, "interpolate": "monotone", "opacity": 0.9},
              "encoding": {
                "x": {"field": "x", "type": "quantitative", "scale": {"domain": [0, 1], "nice": false, "zero": false},
                  "axis": {"title": "Probability of editing at GRIA2 Q/R +4", "values": [0, 0.2, 0.4, 0.6, 0.8, 1], "format": "~g", "labelOverlap": false, "labelFlush": false, "labelFont": "Liberation Sans", "labelFontSize": 8, "labelColor": "#666", "labelPadding": 2, "tickSize": 3, "tickColor": "#999", "domainColor": "#999", "grid": true, "gridColor": "#e4e4e4", "gridDash": [2, 2], "titleFont": "Lato", "titleFontSize": 11.5, "titleFontWeight": "normal", "titleColor": "#222", "titlePadding": 4}},
                "y": {"field": "y", "type": "quantitative", "scale": {"domain": [0, 80], "nice": false},
                  "axis": {"title": "Posterior density", "values": [0, 10, 20, 30, 40, 50, 60, 70, 80], "format": "d", "labelOverlap": false, "labelFlush": false, "labelFont": "Liberation Sans", "labelFontSize": 8, "labelColor": "#666", "labelPadding": 2, "tickSize": 3, "tickColor": "#999", "domainColor": "#999", "grid": false, "titleFont": "Lato", "titleFontSize": 11.5, "titleFontWeight": "normal", "titleColor": "#222", "titlePadding": 3}},
                "color": {"field": "group", "type": "nominal", "scale": {"domain": ["Cohort 1", "Cohort 2"], "range": ["#2b2bff", "#ff7f2a"]}, "legend": null},
                "detail": {"field": "curve", "type": "nominal"}
              }
            },
            {
              "data": {"values": [{"label": "GRIA2 Q/R +4"}]},
              "mark": {"type": "text", "font": "Lato", "fontWeight": "bold", "fontSize": 20, "align": "center", "baseline": "middle", "color": "#000"},
              "encoding": {"text": {"field": "label"},
                "x": {"datum": 0.52, "type": "quantitative",
                  "axis": {"title": "Probability of editing at GRIA2 Q/R +4", "values": [0, 0.2, 0.4, 0.6, 0.8, 1], "format": "~g", "labelOverlap": false, "labelFlush": false, "labelFont": "Liberation Sans", "labelFontSize": 8, "labelColor": "#666", "labelPadding": 2, "tickSize": 3, "tickColor": "#999", "domainColor": "#999", "grid": true, "gridColor": "#e4e4e4", "gridDash": [2, 2], "titleFont": "Lato", "titleFontSize": 11.5, "titleFontWeight": "normal", "titleColor": "#222", "titlePadding": 4}},
                "y": {"datum": 66.5, "type": "quantitative",
                  "axis": {"title": "Posterior density", "values": [0, 10, 20, 30, 40, 50, 60, 70, 80], "format": "d", "labelOverlap": false, "labelFlush": false, "labelFont": "Liberation Sans", "labelFontSize": 8, "labelColor": "#666", "labelPadding": 2, "tickSize": 3, "tickColor": "#999", "domainColor": "#999", "grid": false, "titleFont": "Lato", "titleFontSize": 11.5, "titleFontWeight": "normal", "titleColor": "#222", "titlePadding": 3}}}
            }
          ]
        }
      ]
    }
  ]
}
